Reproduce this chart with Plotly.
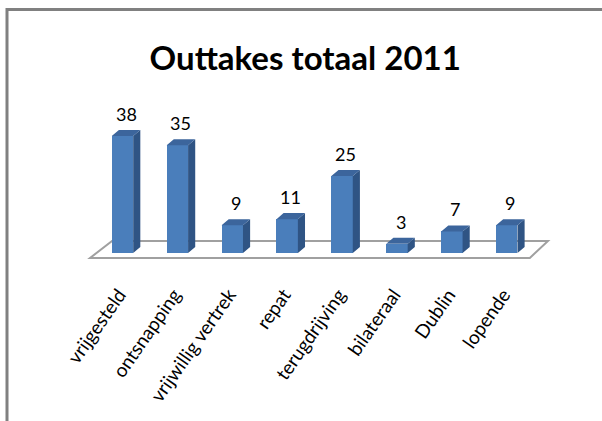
import plotly.graph_objects as go

categories = ["vrijgesteld", "ontsnapping", "vrijwillig vertrek", "repat",
              "terugdrijving", "bilateraal", "Dublin", "lopende"]
values = [38, 35, 9, 11, 25, 3, 7, 9]
title_text = "Outtakes totaal 2011"

FRONT = "#4a7ebb"
TOP = "#3c659c"
SIDE = "#2f5484"
FONT = "Lato"

# depth of the fake 3d columns (data units)
bw = 0.39
ddx = 0.13
ddy = 1.95

xs = list(range(len(categories)))

fig = go.Figure()

# front faces
fig.add_trace(go.Bar(x=xs, y=values, width=bw, marker=dict(color=FRONT, line=dict(width=0)),
                     hoverinfo="skip", showlegend=False))

# side + top faces
sx, sy, tx, ty = [], [], [], []
for x, v in zip(xs, values):
    r = x + bw / 2
    l = x - bw / 2
    sx += [r, r + ddx, r + ddx, r, r, None]
    sy += [0, ddy, v + ddy, v, 0, None]
    tx += [l, r, r + ddx, l + ddx, l, None]
    ty += [v, v, v + ddy, v + ddy, v, None]
fig.add_trace(go.Scatter(x=sx, y=sy, fill="toself", fillcolor=SIDE, mode="lines",
                         line=dict(width=0, color=SIDE), hoverinfo="skip", showlegend=False))
fig.add_trace(go.Scatter(x=tx, y=ty, fill="toself", fillcolor=TOP, mode="lines",
                         line=dict(width=0, color=TOP), hoverinfo="skip", showlegend=False))

# value labels
for x, v in zip(xs, values):
    fig.add_annotation(x=x + ddx / 2, y=v + ddy, text=str(v), showarrow=False,
                       yanchor="bottom", yshift=3, font=dict(family=FONT, size=18, color="black"))

# floor
n = len(categories)
fl, fr, bl, br = -0.59, n - 1 + 0.42, -0.19, n - 1 + 0.75
yf, yb = -1.6, 3.9
fig.add_shape(type="path", xref="x", yref="y", layer="below",
              path=f"M {fl},{yf} L {fr},{yf} L {br},{yb} L {bl},{yb} Z",
              fillcolor="white", line=dict(color="#a0a0a0", width=2))

# outer frame (top and left edge only, like the cropped screenshot)
fig.add_shape(type="path", xref="paper", yref="paper",
              path="M -0.1,-2 L -0.1,1.565 L 1.2,1.565",
              line=dict(color="#808080", width=3))

fig.update_layout(
    width=602, height=421,
    margin=dict(l=60, r=12, t=100, b=161),
    paper_bgcolor="white", plot_bgcolor="white",
    title=dict(text="<b>" + title_text + "</b>", x=0.507, xanchor="center",
               y=1 - 58 / 421, yanchor="middle", font=dict(family=FONT, size=33, color="black")),
    xaxis=dict(range=[-1.138, 8.516], tickvals=[x - 0.06 for x in xs], ticktext=categories, tickangle=-55,
               showgrid=False, zeroline=False, showline=False, ticks="",
               ticklabelstandoff=19, tickfont=dict(family=FONT, size=19, color="black")),
    yaxis=dict(range=[-2.27, 49.68], visible=False),
    bargap=0,
)

fig.write_html("out.html", config={"displayModeBar": False},
               post_script="document.body.style.margin='0px';")
